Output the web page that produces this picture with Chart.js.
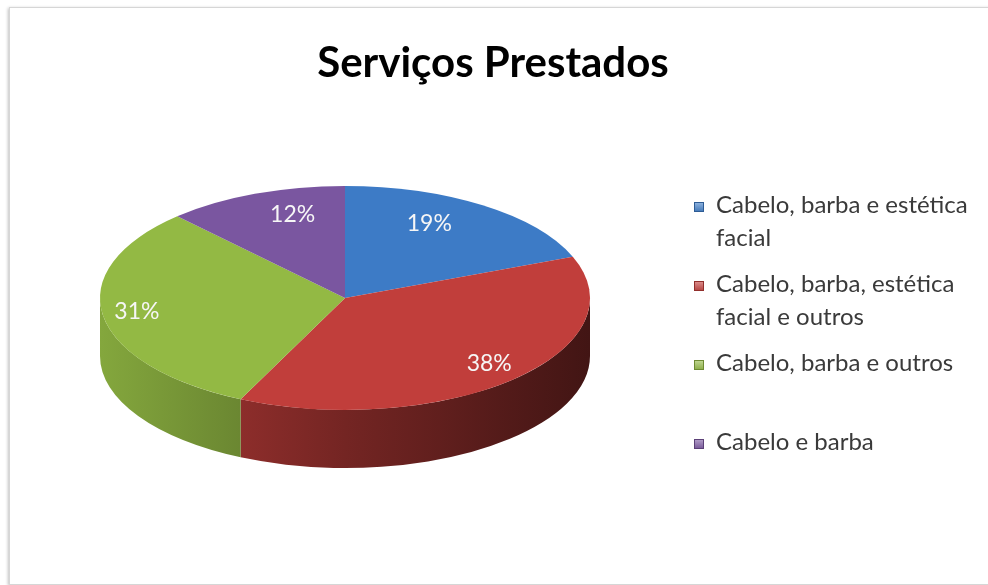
<!DOCTYPE html>
<html><head><meta charset="utf-8">
<script src="https://cdn.jsdelivr.net/npm/chart.js@4.4.1/dist/chart.umd.min.js"></script>
<style>
html,body{margin:0;padding:0;background:#fff;overflow:hidden;width:988px;height:585px}
#frame{position:absolute;left:9px;top:7px;width:1000px;height:576px;border:1px solid #d6d6d6;box-shadow:-1px 1px 3px rgba(0,0,0,0.25);background:#fff}
#wrap{position:absolute;left:0;top:0;width:988px;height:585px}
</style></head><body>
<div id="frame"></div>
<div id="wrap"><canvas id="c" width="988" height="585"></canvas></div>
<script>
const chartTitle = 'Serviços Prestados';
const categories = ['Cabelo, barba e estética facial', 'Cabelo, barba, estética facial e outros', 'Cabelo, barba e outros', 'Cabelo e barba'];
const values = [19, 38, 31, 12];
const colors = ['#3d7bc6', '#c13e3b', '#93b944', '#7a56a0'];

const K = 112 / 245;      // vertical squash of the pie (3D tilt)
const DEPTH = 58;         // thickness of the pie wall

function shade(hex, f) {
  const n = parseInt(hex.slice(1), 16);
  const r = (n >> 16) & 255, g = (n >> 8) & 255, b = n & 255;
  return `rgb(${Math.round(r * (1 - f))},${Math.round(g * (1 - f))},${Math.round(b * (1 - f))})`;
}
function lighten(hex, f) {
  const n = parseInt(hex.slice(1), 16);
  const r = (n >> 16) & 255, g = (n >> 8) & 255, b = n & 255;
  return `rgb(${Math.round(r + (255 - r) * f)},${Math.round(g + (255 - g) * f)},${Math.round(b + (255 - b) * f)})`;
}

let geo = null;
const pie3d = {
  id: 'pie3d',
  beforeDatasetDraw(chart, args) {
    const ctx = chart.ctx;
    const arcs = args.meta.data;
    if (!arcs.length) return;
    const p0 = arcs[0].getProps(['x', 'y', 'outerRadius'], true);
    const cx = p0.x, cy = p0.y, rx = p0.outerRadius, ry = rx * K;
    geo = {cx, cy, rx, ry};
    arcs.forEach((arc, i) => {
      const p = arc.getProps(['startAngle', 'endAngle'], true);
      const a1 = Math.max(p.startAngle, 0), a2 = Math.min(p.endAngle, Math.PI);
      if (a2 <= a1) return;
      const g = ctx.createLinearGradient(cx - rx, 0, cx + rx, 0);
      g.addColorStop(0, shade(colors[i], 0.1));
      g.addColorStop(0.5, shade(colors[i], 0.4));
      g.addColorStop(1, shade(colors[i], 0.66));
      ctx.beginPath();
      ctx.ellipse(cx, cy, rx, ry, 0, a1, a2, false);
      ctx.ellipse(cx, cy + DEPTH, rx, ry, 0, a2, a1, true);
      ctx.closePath();
      ctx.fillStyle = g;
      ctx.fill();
    });
    ctx.save();
    ctx.translate(cx, cy);
    ctx.scale(1, K);
    ctx.translate(-cx, -cy);
  },
  afterDatasetDraw(chart, args) {
    const ctx = chart.ctx;
    ctx.restore();
    const {cx, cy, rx, ry} = geo;
    ctx.save();
    ctx.font = '23px Lato';
    ctx.fillStyle = '#f6f6f6';
    ctx.textAlign = 'center';
    ctx.textBaseline = 'middle';
    args.meta.data.forEach((arc, i) => {
      const p = arc.getProps(['startAngle', 'endAngle'], true);
      const m = (p.startAngle + p.endAngle) / 2;
      const s = Math.sin(m), c = Math.cos(m);
      const fx = 0.86 - 0.3 * Math.max(0, -s), fy = 0.8;
      ctx.fillText(values[i] + '%', cx + rx * fx * c, cy + ry * fy * s);
    });
    ctx.restore();
  },
  afterDraw(chart) {
    const ctx = chart.ctx;
    ctx.save();
    // title
    ctx.font = 'bold 42px Lato';
    ctx.fillStyle = '#000';
    ctx.textAlign = 'center';
    ctx.textBaseline = 'alphabetic';
    ctx.fillText(chartTitle, 493, 77);
    // legend
    ctx.font = '24px Lato';
    ctx.textAlign = 'left';
    const maxW = 268;
    categories.forEach((label, i) => {
      const words = label.split(' ');
      const lines = [];
      let cur = '';
      words.forEach(w => {
        const t = cur ? cur + ' ' + w : w;
        if (ctx.measureText(t).width > maxW && cur) { lines.push(cur); cur = w; } else cur = t;
      });
      lines.push(cur);
      const base = 213 + i * 79;
      const g = ctx.createLinearGradient(0, base - 10, 0, base);
      g.addColorStop(0, lighten(colors[i], 0.4));
      g.addColorStop(1, shade(colors[i], 0.1));
      ctx.fillStyle = g;
      ctx.fillRect(694, base - 11, 10, 10);
      ctx.strokeStyle = shade(colors[i], 0.25);
      ctx.lineWidth = 1;
      ctx.strokeRect(694.5, base - 10.5, 9, 9);
      ctx.fillStyle = '#3a3a3a';
      lines.forEach((ln, j) => ctx.fillText(ln, 716, base + j * 33));
    });
    ctx.restore();
  }
};

new Chart(document.getElementById('c'), {
  type: 'pie',
  data: {
    labels: categories,
    datasets: [{
      data: values,
      backgroundColor: colors,
      borderWidth: 0,
      hoverOffset: 0,
      clip: false
    }]
  },
  options: {
    responsive: false,
    animation: false,
    events: [],
    layout: {padding: {left: 100, right: 398, top: 53, bottom: 42}},
    plugins: {legend: {display: false}, tooltip: {enabled: false}, title: {display: false}}
  },
  plugins: [pie3d]
});
</script>
</body></html>
